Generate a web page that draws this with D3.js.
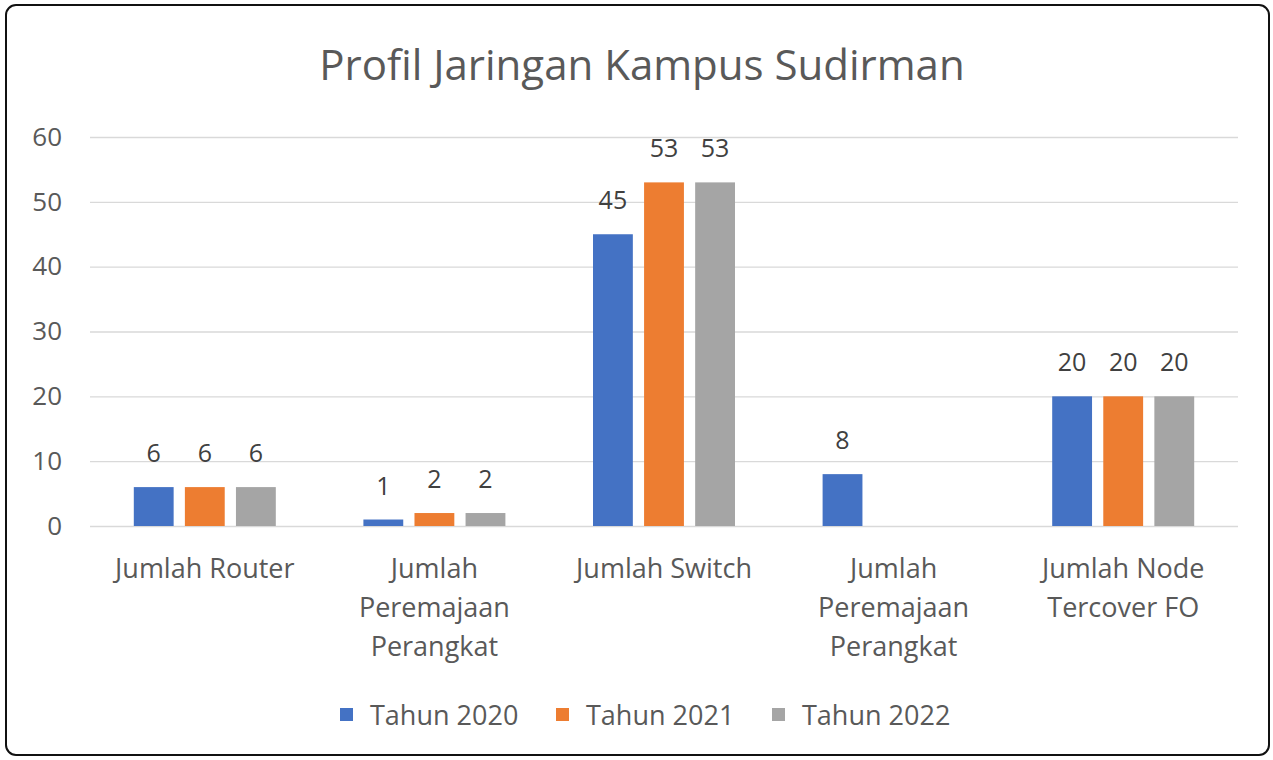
<!DOCTYPE html>
<html>
<head>
<meta charset="utf-8">
<script src="https://cdn.jsdelivr.net/npm/d3@7"></script>
<style>
  body { margin: 0; background: #fff; }
  text { font-family: "Open Sans", "Noto Sans", sans-serif; fill: #595959; }
</style>
</head>
<body>
<div id="chart"></div>
<script>
// chart data
const categories = [
    ["Jumlah Router"],
    ["Jumlah", "Peremajaan", "Perangkat"],
    ["Jumlah Switch"],
    ["Jumlah", "Peremajaan", "Perangkat"],
    ["Jumlah Node", "Tercover FO"]
];
const seriesNames = ["Tahun 2020", "Tahun 2021", "Tahun 2022"];
const values2020 = [6, 1, 45, 8, 20];
const values2021 = [6, 2, 53, null, 20];
const values2022 = [6, 2, 53, null, 20];
const yTicks = [0, 10, 20, 30, 40, 50, 60];
const colors = ["#4472C4", "#ED7D31", "#A5A5A5"];

const series = [values2020, values2021, values2022];
const width = 1273, height = 760;
const margin = {top: 137, right: 35, bottom: 234, left: 90};
const groupWidth = 142;

let svg = d3.select("#chart").append("svg")
    .attr("width", width)
    .attr("height", height);

// outer frame
svg.append("rect")
    .attr("x", 6).attr("y", 5)
    .attr("width", 1263).attr("height", 750)
    .attr("rx", 10)
    .style("fill", "#fff")
    .style("stroke", "#111")
    .style("stroke-width", 2);

svg.append("text")
    .attr("x", 642).attr("y", 80)
    .attr("text-anchor", "middle")
    .style("font-size", "42px")
    .text("Profil Jaringan Kampus Sudirman");

let x0 = d3.scaleBand()
    .domain(d3.range(categories.length))
    .range([margin.left, width - margin.right]);

let x1 = d3.scaleBand()
    .domain(d3.range(series.length))
    .range([0, groupWidth])
    .paddingInner(0.22);

let y = d3.scaleLinear()
    .domain([0, 60])
    .range([height - margin.bottom, margin.top]);

// gridlines + tick labels
let yAxis = d3.axisLeft(y)
    .tickValues(yTicks)
    .tickSize(-(width - margin.left - margin.right))
    .tickPadding(28);

let gy = svg.append("g")
    .attr("transform", "translate(" + margin.left + ",0)")
    .call(yAxis);
gy.select(".domain").remove();
gy.selectAll("line").style("stroke", "#d9d9d9").style("stroke-width", 1.3);
gy.selectAll("text")
    .style("font-size", "26px")
    .style("fill", "#595959")
    .style("font-family", "Open Sans");

// bars
let groups = svg.selectAll("g.cat")
    .data(categories)
    .enter().append("g")
    .attr("class", "cat")
    .attr("transform", (d, i) => "translate(" + (x0(i) + (x0.bandwidth() - groupWidth) / 2) + ",0)");

groups.each(function(c, i) {
    let g = d3.select(this);
    series.forEach((vals, s) => {
        let v = vals[i];
        if (v == null) return;
        g.append("rect")
            .attr("x", x1(s))
            .attr("y", y(v))
            .attr("width", x1.bandwidth())
            .attr("height", y(0) - y(v))
            .style("fill", colors[s]);
        g.append("text")
            .attr("x", x1(s) + x1.bandwidth() / 2)
            .attr("y", y(v) - 25)
            .attr("text-anchor", "middle")
            .style("font-size", "25px")
            .style("fill", "#404040")
            .text(v);
    });

    // category label
    let lbl = g.append("text")
        .attr("x", groupWidth / 2)
        .attr("y", 578)
        .attr("text-anchor", "middle")
        .style("font-size", "27px");
    c.forEach((line, k) => {
        lbl.append("tspan")
            .attr("x", groupWidth / 2)
            .attr("dy", k == 0 ? 0 : 39)
            .text(line);
    });
});

// legend
let legend = svg.append("g").attr("transform", "translate(0,715)");
let legendX = [340, 556, 772];
seriesNames.forEach((name, s) => {
    legend.append("rect")
        .attr("x", legendX[s])
        .attr("y", -7)
        .attr("width", 13).attr("height", 13)
        .style("fill", colors[s]);
    legend.append("text")
        .attr("x", legendX[s] + 30)
        .attr("y", 10)
        .style("font-size", "27px")
        .text(name);
});
</script>
</body>
</html>
